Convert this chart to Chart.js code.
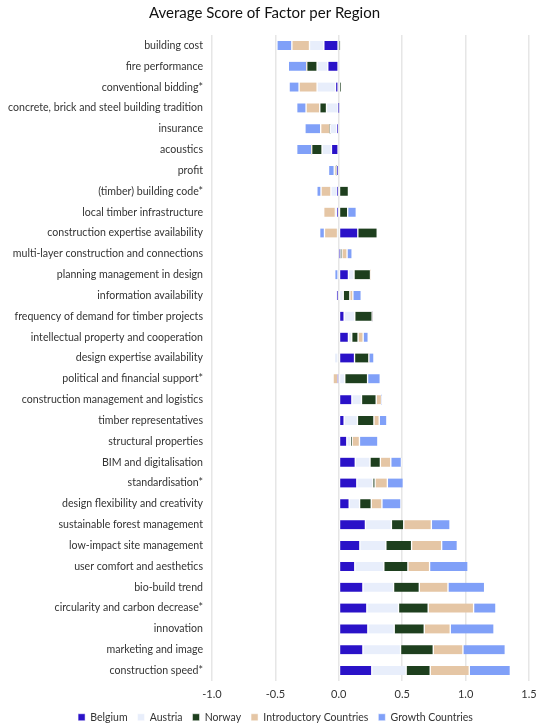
<!DOCTYPE html>
<html>
<head>
<meta charset="utf-8">
<script src="https://cdn.jsdelivr.net/npm/chart.js@4.4.1/dist/chart.umd.min.js"></script>
<style>
  html, body { margin: 0; padding: 0; background: #fff; }
  #wrap { width: 550px; height: 728px; position: relative; }
</style>
</head>
<body>
<div id="wrap"><canvas id="chart"></canvas></div>
<script>
const factors = [
  "building cost",
  "fire performance",
  "conventional bidding*",
  "concrete, brick and steel building tradition",
  "insurance",
  "acoustics",
  "profit",
  "(timber) building code*",
  "local timber infrastructure",
  "construction expertise availability",
  "multi-layer construction and connections",
  "planning management in design",
  "information availability",
  "frequency of demand for timber projects",
  "intellectual property and cooperation",
  "design expertise availability",
  "political and financial support*",
  "construction management and logistics",
  "timber representatives",
  "structural properties",
  "BIM and digitalisation",
  "standardisation*",
  "design flexibility and creativity",
  "sustainable forest management",
  "low-impact site management",
  "user comfort and aesthetics",
  "bio-build trend",
  "circularity and carbon decrease*",
  "innovation",
  "marketing and image",
  "construction speed*",
];

const belgium = [-0.118, -0.087, -0.026, 0, -0.016, -0.058, -0.012, -0.012, -0.017, 0.15,
  0.01, 0.076, -0.018, 0.042, 0.076, 0.124, -0.008, 0.103, 0.042, 0.063,
  0.13, 0.142, 0.082, 0.21, 0.166, 0.126, 0.19, 0.221, 0.229, 0.19, 0.26];
const austria = [-0.113, -0.084, -0.145, -0.097, -0.053, -0.074, -0.008, -0.05, -0.01, -0.01,
  0, 0.044, 0.035, 0.084, 0.026, -0.034, 0.047, 0.076, 0.105, 0.032,
  0.116, 0.126, 0.082, 0.205, 0.205, 0.229, 0.242, 0.25, 0.208, 0.297, 0.271];
const norway = [0.01, -0.082, 0.018, -0.053, 0, -0.082, 0, 0.076, 0.07, 0.153,
  0.015, 0.13, 0.052, 0.137, 0.05, 0.113, 0.18, 0.116, 0.13, 0.01,
  0.082, 0.018, 0.092, 0.097, 0.203, 0.19, 0.203, 0.234, 0.237, 0.258, 0.19];
const introductory = [-0.139, 0, -0.142, -0.108, -0.074, 0, -0.016, -0.078, -0.092, -0.103,
  0.04, 0, 0.024, 0, 0.04, 0, -0.037, 0.042, 0.042, 0.058,
  0.082, 0.097, 0.084, 0.218, 0.237, 0.171, 0.226, 0.358, 0.205, 0.234, 0.308];
const growth = [-0.118, -0.145, -0.079, -0.074, -0.124, -0.118, -0.045, -0.033, 0.068, -0.038,
  0.04, -0.032, 0.066, 0, 0.04, 0.04, 0.1, 0, 0.06, 0.145,
  0.084, 0.126, 0.15, 0.147, 0.124, 0.303, 0.289, 0.176, 0.345, 0.334, 0.324];

const xTicks = [-1.0, -0.5, 0.0, 0.5, 1.0, 1.5];

const fontFamily = "Lato, 'Open Sans', sans-serif";

function series(label, data, color) {
  return {
    label: label,
    data: data,
    backgroundColor: color,
    borderColor: "#ffffff",
    borderWidth: { left: 1, right: 1, top: 0, bottom: 0 },
    borderSkipped: false,
    barThickness: 9,
  };
}

// pull the legend a bit closer to the bottom edge and centre it on the page
const legendTweak = {
  id: "legendTweak",
  beforeInit(chart) {
    const fit = chart.legend.fit;
    chart.legend.fit = function () {
      fit.bind(chart.legend)();
      this.height -= 4.5;
    };
  },
  afterLayout(chart) {
    chart.legend.left += 11;
    chart.legend.right += 11;
  },
};

const ctx = document.getElementById("chart").getContext("2d");

new Chart(ctx, {
  type: "bar",
  data: {
    labels: factors,
    datasets: [
      series("Belgium", belgium, "#2a12c8"),
      series("Austria", austria, "#e8eefb"),
      series("Norway", norway, "#1e3f1e"),
      series("Introductory Countries", introductory, "#e5c6a5"),
      series("Growth Countries", growth, "#80a0f8"),
    ],
  },
  plugins: [legendTweak],
  options: {
    indexAxis: "y",
    responsive: true,
    maintainAspectRatio: false,
    animation: false,
    layout: { padding: { left: 0, right: 21, top: 4, bottom: 0 } },
    plugins: {
      title: {
        display: true,
        text: "Average Score of Factor per Region",
        color: "#111",
        font: { family: fontFamily, size: 15, weight: "normal" },
        padding: { top: 0, bottom: 13 },
      },
      legend: {
        position: "bottom",
        labels: {
          color: "#333",
          font: { family: fontFamily, size: 10.5 },
          boxWidth: 7,
          boxHeight: 7,
          padding: 10,
        },
      },
      tooltip: { enabled: false },
    },
    scales: {
      x: {
        stacked: true,
        min: -1,
        max: 1.5,
        afterBuildTicks: (scale) => {
          scale.ticks = xTicks.map((v) => ({ value: v }));
        },
        afterFit: (scale) => {
          scale.height = 21;
        },
        ticks: {
          color: "#333",
          font: { family: fontFamily, size: 11 },
          padding: 7,
          callback: (v) => Number(v).toFixed(1),
        },
        grid: { color: "#e6e6e6", lineWidth: 1.5, drawTicks: false },
        border: { display: false },
      },
      y: {
        stacked: true,
        afterFit: (scale) => {
          scale.width = 212;
        },
        ticks: {
          color: "#333",
          font: { family: fontFamily, size: 10.6 },
          padding: 9,
          autoSkip: false,
        },
        grid: { display: false, drawTicks: false },
        border: { display: false },
      },
    },
  },
});
</script>
</body>
</html>
